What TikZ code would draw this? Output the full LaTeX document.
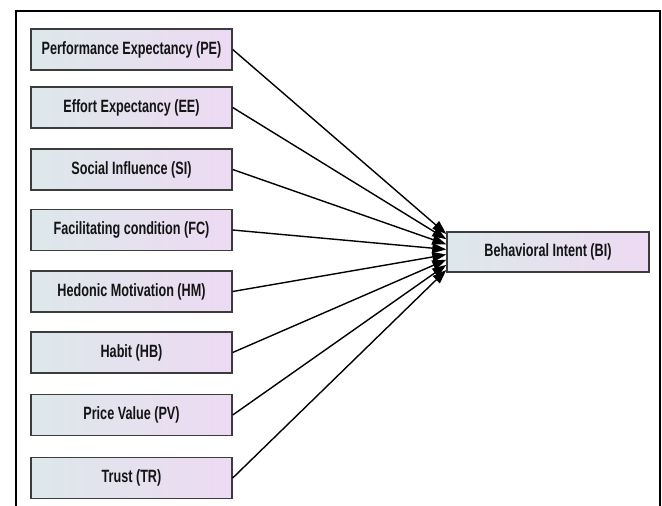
\documentclass[tikz,border=0pt]{standalone}
\usepackage{fontspec}
\setmainfont{Liberation Sans}[FakeStretch=0.71]
\usetikzlibrary{arrows.meta}
\definecolor{boxL}{RGB}{221,232,234}
\definecolor{boxR}{RGB}{237,218,243}
\definecolor{boxB}{RGB}{60,60,60}
\definecolor{txt}{RGB}{20,20,20}
\begin{document}
\begin{tikzpicture}[x=1pt,y=-1pt,
  fbox/.style={draw=boxB,line width=1.4pt,left color=boxL,right color=boxR,
    minimum width=201pt,minimum height=41pt,inner sep=0pt,
    font=\fontsize{17.8}{19}\bfseries,text=txt},
  conn/.style={draw=black,line width=1.4pt,-{Triangle[length=14pt,width=10pt]}}]
\useasboundingbox (0,0) rectangle (662,506);
\draw[line width=1.4pt] (16,506) -- (16,11) -- (660,11) -- (660,506);
\node[fbox] (PE) at (131.5,49.5) {Performance Expectancy (PE)};
\node[fbox] (EE) at (131.5,107.5) {Effort Expectancy (EE)};
\node[fbox] (SI) at (131.5,169.5) {Social Influence (SI)};
\node[fbox] (FC) at (131.5,230) {Facilitating condition (FC)};
\node[fbox] (HM) at (131.5,291.5) {Hedonic Motivation (HM)};
\node[fbox] (HB) at (131.5,352.5) {Habit (HB)};
\node[fbox] (PV) at (131.5,415) {Price Value (PV)};
\node[fbox] (TR) at (131.5,478) {Trust (TR)};
\node[fbox,minimum width=202pt,minimum height=40pt] (BI) at (548,252) {Behavioral Intent (BI)};
\foreach \n/\k in {PE/0,EE/1,SI/2,FC/3,HM/4,HB/5,PV/6,TR/7}{
  \coordinate (t\n) at ([yshift={18-5.14*\k}]BI.west);
  \draw[conn] (\n.east) -- (t\n);
}
\end{tikzpicture}
\end{document}
